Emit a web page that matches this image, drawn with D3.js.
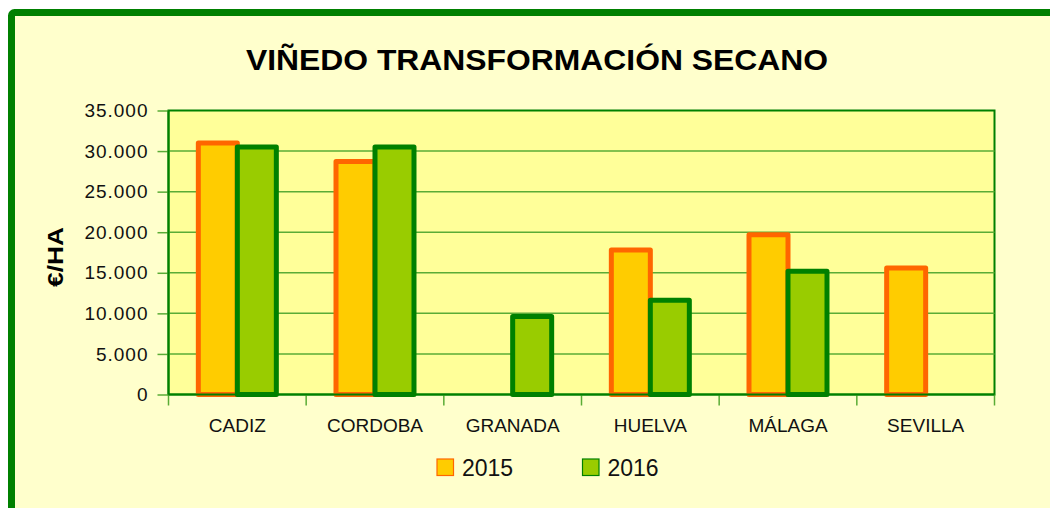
<!DOCTYPE html>
<html>
<head>
<meta charset="utf-8">
<script src="https://cdn.jsdelivr.net/npm/d3@7"></script>
<style>
  html, body { margin: 0; padding: 0; background: #fff; }
  svg { display: block; font-family: "Liberation Sans", Arial, sans-serif; }
</style>
</head>
<body>
<svg id="chart" width="1050" height="508"></svg>
<script>
// chart values (€/ha)
const provinces = ['CADIZ', 'CORDOBA', 'GRANADA', 'HUELVA', 'MÁLAGA', 'SEVILLA'];
const years = ['2015', '2016'];
const values2015 = [31000, 28700, null, 17800, 19700, 15600];
const values2016 = [30500, 30500, 9600, 11600, 15200, null];
const yTicks = [0, 5000, 10000, 15000, 20000, 25000, 30000, 35000];

const fills = { '2015': '#ffcc00', '2016': '#99cc00' };
const strokes = { '2015': '#ff6600', '2016': '#008000' };

const es = d3.formatLocale({ decimal: ',', thousands: '.', grouping: [3], currency: ['', ' €'] });
const fmt = es.format(',d');

const svg = d3.select('#chart');
const plot = { left: 168.5, right: 994.5, top: 110.5, bottom: 394.5 };

// outer frame (runs off the right and bottom of the picture)
svg.append('rect')
  .attr('x', 11.5).attr('y', 12.5)
  .attr('width', 1100).attr('height', 600)
  .attr('rx', 3)
  .attr('fill', '#ffffcc')
  .attr('stroke', '#008000')
  .attr('stroke-width', 7);

svg.append('text')
  .attr('x', 537).attr('y', 70)
  .attr('text-anchor', 'middle')
  .attr('font-size', 30).attr('font-weight', 'bold')
  .attr('textLength', 582).attr('lengthAdjust', 'spacingAndGlyphs')
  .text('VIÑEDO TRANSFORMACIÓN SECANO');

const x0 = d3.scaleBand().domain(provinces).range([plot.left, plot.right]).padding(0);
const x1 = d3.scaleBand().domain(years).range([0, x0.bandwidth()]).paddingInner(0).paddingOuter(0.765);
const y = d3.scaleLinear().domain([0, 35000]).range([plot.bottom, plot.top]);

// plot area
svg.append('rect')
  .attr('x', plot.left).attr('y', plot.top)
  .attr('width', plot.right - plot.left).attr('height', plot.bottom - plot.top)
  .attr('fill', '#ffff99')
  .attr('stroke', '#008000')
  .attr('stroke-width', 2);

// gridlines
svg.append('g')
  .selectAll('line')
  .data(yTicks.filter((d) => d > 0 && d < 35000))
  .join('line')
  .attr('x1', plot.left).attr('x2', plot.right)
  .attr('y1', (d) => y(d)).attr('y2', (d) => y(d))
  .attr('stroke', '#5aac36')
  .attr('stroke-width', 1.5);

// y axis
const yAxis = svg.append('g')
  .attr('transform', `translate(${plot.left},0)`)
  .call(d3.axisLeft(y).tickValues(yTicks).tickFormat(fmt).tickSize(11).tickPadding(9));
yAxis.select('.domain').remove();
yAxis.selectAll('.tick line').attr('stroke', '#5aac36').attr('stroke-width', 1.5);
yAxis.selectAll('.tick text')
  .attr('font-size', 19).attr('fill', '#111')
  .attr('letter-spacing', 1)
  .attr('font-family', '"Liberation Sans", Arial, sans-serif');

// category boundary ticks on x axis
const bounds = provinces.map((p) => x0(p)).concat([x0.range()[1]]);
svg.append('g')
  .selectAll('line')
  .data(bounds)
  .join('line')
  .attr('x1', (d) => d).attr('x2', (d) => d)
  .attr('y1', plot.bottom).attr('y2', plot.bottom + 11)
  .attr('stroke', '#5aac36')
  .attr('stroke-width', 1.5);

// category labels
const xAxis = svg.append('g')
  .attr('transform', `translate(0,${plot.bottom})`)
  .call(d3.axisBottom(x0).tickSize(0).tickPadding(0));
xAxis.select('.domain').remove();
xAxis.selectAll('.tick text')
  .attr('y', 37.5).attr('dy', 0)
  .attr('font-size', 19).attr('fill', '#111')
  .attr('font-family', '"Liberation Sans", Arial, sans-serif');

// bars: 2015 first, 2016 drawn over it
const seriesData = [
  { year: '2015', values: values2015 },
  { year: '2016', values: values2016 },
];
seriesData.forEach((s) => {
  svg.append('g')
    .selectAll('rect')
    .data(provinces.map((p, i) => ({ p, v: s.values[i] })).filter((d) => d.v != null))
    .join('rect')
    .attr('x', (d) => x0(d.p) + x1(s.year))
    .attr('y', (d) => y(d.v))
    .attr('width', x1.bandwidth())
    .attr('height', (d) => y(0) - y(d.v))
    .attr('fill', fills[s.year])
    .attr('stroke', strokes[s.year])
    .attr('stroke-width', 5)
    .attr('stroke-linejoin', 'round');
});

// axis lines on top
svg.append('line')
  .attr('x1', plot.left).attr('x2', plot.left)
  .attr('y1', plot.top).attr('y2', plot.bottom)
  .attr('stroke', '#008000').attr('stroke-width', 2);
svg.append('line')
  .attr('x1', plot.left).attr('x2', plot.right)
  .attr('y1', plot.bottom).attr('y2', plot.bottom)
  .attr('stroke', '#008000').attr('stroke-width', 2);

// y axis title
svg.append('text')
  .attr('transform', 'translate(63,257) rotate(-90)')
  .attr('text-anchor', 'middle')
  .attr('font-size', 22).attr('font-weight', 'bold')
  .attr('textLength', 60).attr('lengthAdjust', 'spacingAndGlyphs')
  .text('€/HA');

// legend
const legendX = [437, 582.5];
const legend = svg.append('g')
  .selectAll('g')
  .data(years)
  .join('g')
  .attr('transform', (d, i) => `translate(${legendX[i]},459)`);
legend.append('rect')
  .attr('width', 16.5).attr('height', 16.5)
  .attr('fill', (d) => fills[d])
  .attr('stroke', (d) => strokes[d])
  .attr('stroke-width', 1.2);
legend.append('text')
  .attr('x', 25).attr('y', 17)
  .attr('font-size', 23)
  .attr('fill', '#111')
  .text((d) => d);
</script>
</body>
</html>
